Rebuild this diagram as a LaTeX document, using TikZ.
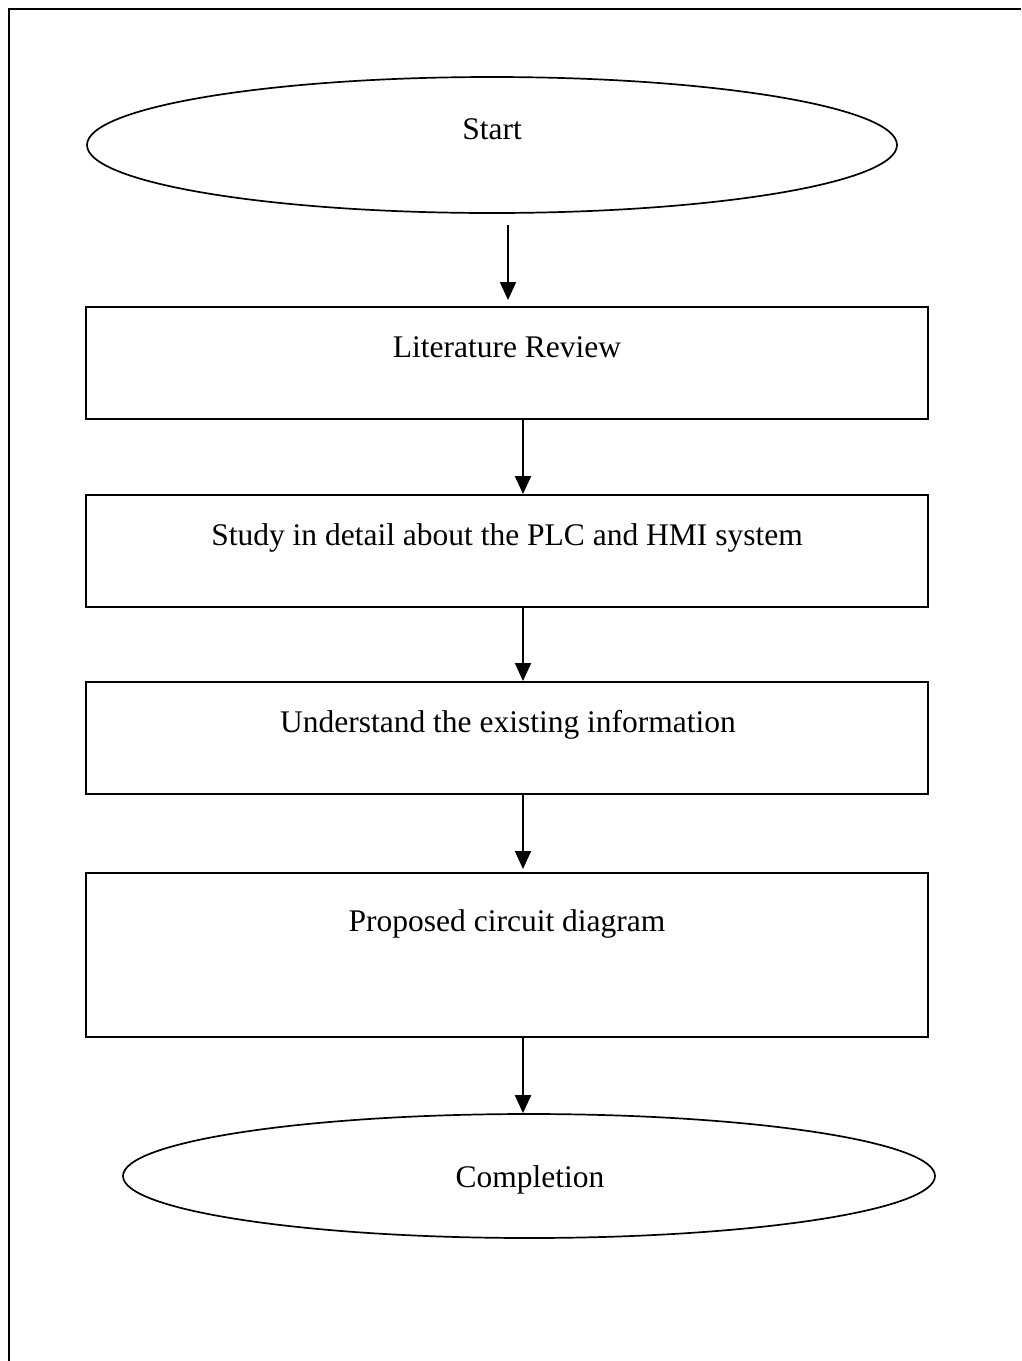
\documentclass[tikz,border=0pt]{standalone}
\usepackage{fontspec}
\setmainfont{Liberation Serif}
\usetikzlibrary{shapes.geometric,arrows.meta}
\begin{document}
\begin{tikzpicture}[x=1pt,y=-1pt,
  frameline/.style={line width=2.6pt},
  stepbox/.style={draw, line width=2pt, rectangle, inner sep=0pt, minimum width=842pt},
  term/.style={draw, line width=1.7pt, ellipse, inner sep=0pt},
  lbl/.style={font=\fontsize{31.5}{38}\selectfont, anchor=base, inner sep=0pt},
  flow/.style={line width=2pt, -{Triangle[length=18pt,width=16pt]}}]
\useasboundingbox (0,0) rectangle (1021,1361);
\draw[frameline] (9,1361) -- (9,9) -- (1021,9);

\node[term, minimum width=810pt, minimum height=136pt] (start) at (492,145) {};
\node[lbl] (tstart) at (492,139) {Start};

\node[stepbox, minimum height=112pt] (b1) at (507,363) {};
\node[lbl] (t1) at (507,357) {Literature Review};

\node[stepbox, minimum height=112pt] (b2) at (507,551) {};
\node[lbl] (t2) at (507,545) {Study in detail about the PLC and HMI system};

\node[stepbox, minimum height=112pt] (b3) at (507,738) {};
\node[lbl] (t3) at (508,732) {Understand the existing information};

\node[stepbox, minimum height=164pt] (b4) at (507,955) {};
\node[lbl] (t4) at (507,931) {Proposed circuit diagram};

\node[term, minimum width=812pt, minimum height=124pt] (done) at (529,1176) {};
\node[lbl] (tdone) at (530,1187) {Completion};

\coordinate (a1s) at (508,225);
\coordinate (a1e) at (508,300);
\coordinate (a2e) at (523,494);
\coordinate (a4e) at (523,869);

\draw[flow] (a1s) -- (a1e);
\draw[flow] (b1.south -| a2e) -- (a2e);
\draw[flow] (b2.south -| a2e) -- (b3.north -| a2e);
\draw[flow] (b3.south -| a4e) -- (a4e);
\draw[flow] (b4.south -| a4e) -- (done.north -| a4e);
\end{tikzpicture}
\end{document}
